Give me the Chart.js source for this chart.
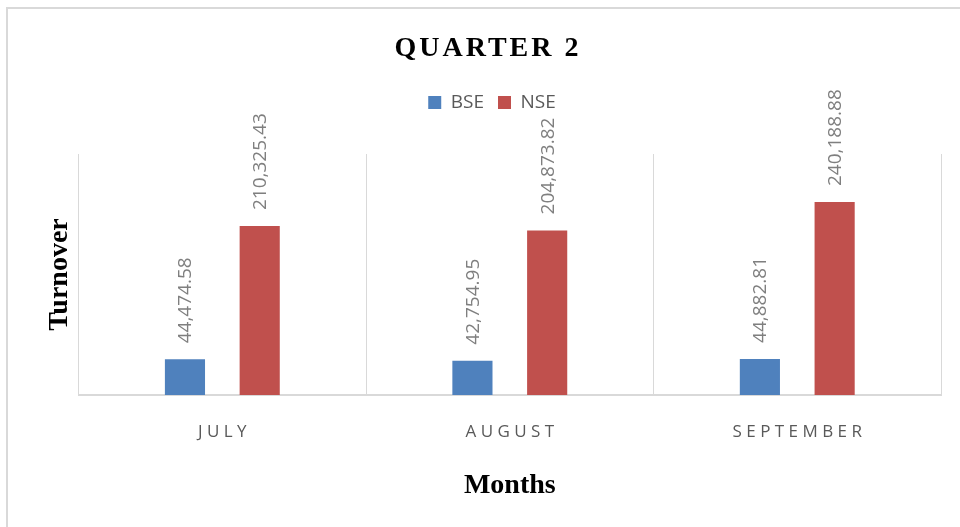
<!DOCTYPE html>
<html>
<head>
<meta charset="utf-8">
<script src="https://cdn.jsdelivr.net/npm/chart.js@4"></script>
<style>
  html, body { margin: 0; padding: 0; background: #ffffff; }
  #wrap { width: 960px; height: 527px; position: relative; }
</style>
</head>
<body>
<div id="wrap"><canvas id="quarterChart"></canvas></div>
<script>
// 데이터
const categories = ["JULY", "AUGUST", "SEPTEMBER"];
const seriesNames = ["BSE", "NSE"];
const bseValues = [44474.58, 42754.95, 44882.81];
const nseValues = [210325.43, 204873.82, 240188.88];
const yAxisMax = 300000;

const chartTitle = "QUARTER 2";
const xTitle = "Months";
const yTitle = "Turnover";

const SERIF = "'Liberation Serif', 'Times New Roman', serif";
const SANS = "'Open Sans', 'Noto Sans', sans-serif";

// 바깥 테두리 + 배경
const framePlugin = {
  id: "frame",
  beforeDraw: (chart) => {
    const { ctx, width, height } = chart;
    ctx.save();
    ctx.fillStyle = "#ffffff";
    ctx.fillRect(0, 0, width, height);
    ctx.strokeStyle = "#d9d9d9";
    ctx.lineWidth = 2;
    ctx.strokeRect(7, 8, width + 50, height + 50);
    ctx.restore();
  },
};

// 제목 (자간 적용을 위해 직접 그림)
const spacedTitlePlugin = {
  id: "spacedTitle",
  afterDraw: (chart) => {
    const { ctx } = chart;
    ctx.save();
    ctx.font = "bold 28px " + SERIF;
    ctx.fillStyle = "#000000";
    ctx.letterSpacing = "3px";
    ctx.textAlign = "center";
    ctx.textBaseline = "alphabetic";
    ctx.fillText(chartTitle, 488, 56);
    ctx.restore();
  },
};

// 막대 위 세로 데이터 라벨
const barLabelPlugin = {
  id: "barLabels",
  afterDatasetsDraw: (chart) => {
    const { ctx } = chart;
    ctx.save();
    ctx.font = "19px " + SANS;
    ctx.fillStyle = "#7f7f7f";
    ctx.textAlign = "left";
    ctx.textBaseline = "middle";
    chart.data.datasets.forEach((ds, di) => {
      const meta = chart.getDatasetMeta(di);
      meta.data.forEach((bar, i) => {
        const text = ds.data[i].toLocaleString("en-US", {
          minimumFractionDigits: 2,
          maximumFractionDigits: 2,
        });
        ctx.save();
        ctx.translate(bar.x, bar.y - 16);
        ctx.rotate(-Math.PI / 2);
        ctx.fillText(text, 0, 1);
        ctx.restore();
      });
    });
    ctx.restore();
  },
};

const ctx = document.getElementById("quarterChart").getContext("2d");

new Chart(ctx, {
  type: "bar",
  data: {
    labels: categories,
    datasets: [
      {
        label: seriesNames[0],
        data: bseValues,
        backgroundColor: "#4f81bd",
        categoryPercentage: 0.52,
        barPercentage: 0.537,
      },
      {
        label: seriesNames[1],
        data: nseValues,
        backgroundColor: "#c0504d",
        categoryPercentage: 0.52,
        barPercentage: 0.537,
      },
    ],
  },
  plugins: [framePlugin, spacedTitlePlugin, barLabelPlugin],
  options: {
    responsive: true,
    maintainAspectRatio: false,
    animation: false,
    layout: {
      padding: { top: 79, right: 19, bottom: 24, left: 43 },
    },
    plugins: {
      title: { display: false },
      // 범례와 차트 영역 사이 여백용
      subtitle: {
        display: true,
        text: "",
        weight: 500,
        font: { size: 10 },
        padding: { top: 0, bottom: 20 },
      },
      legend: {
        display: true,
        position: "top",
        labels: {
          boxWidth: 13,
          boxHeight: 13,
          padding: 14,
          color: "#595959",
          font: { size: 19, family: SANS },
        },
      },
      tooltip: { enabled: false },
    },
    scales: {
      x: {
        grid: {
          display: true,
          offset: true,
          color: "#d9d9d9",
          lineWidth: 1,
          drawTicks: false,
          tickLength: 0,
        },
        border: { display: true, color: "#d9d9d9", width: 2 },
        ticks: {
          padding: 27,
          color: "#595959",
          font: { size: 17, family: SANS },
          callback: function (value) {
            return this.getLabelForValue(value).split("").join(" ");
          },
        },
        title: {
          display: true,
          text: xTitle,
          color: "#000000",
          font: { size: 28, weight: "bold", family: SERIF },
          padding: { top: 0, bottom: 0 },
        },
      },
      y: {
        min: 0,
        max: yAxisMax,
        grid: { display: false, drawTicks: false, tickLength: 0 },
        border: { display: false },
        ticks: { display: false },
        title: {
          display: true,
          text: yTitle,
          color: "#000000",
          font: { size: 28, weight: "bold", family: SERIF },
          padding: { top: 0, bottom: 2 },
        },
      },
    },
  },
});
</script>
</body>
</html>
